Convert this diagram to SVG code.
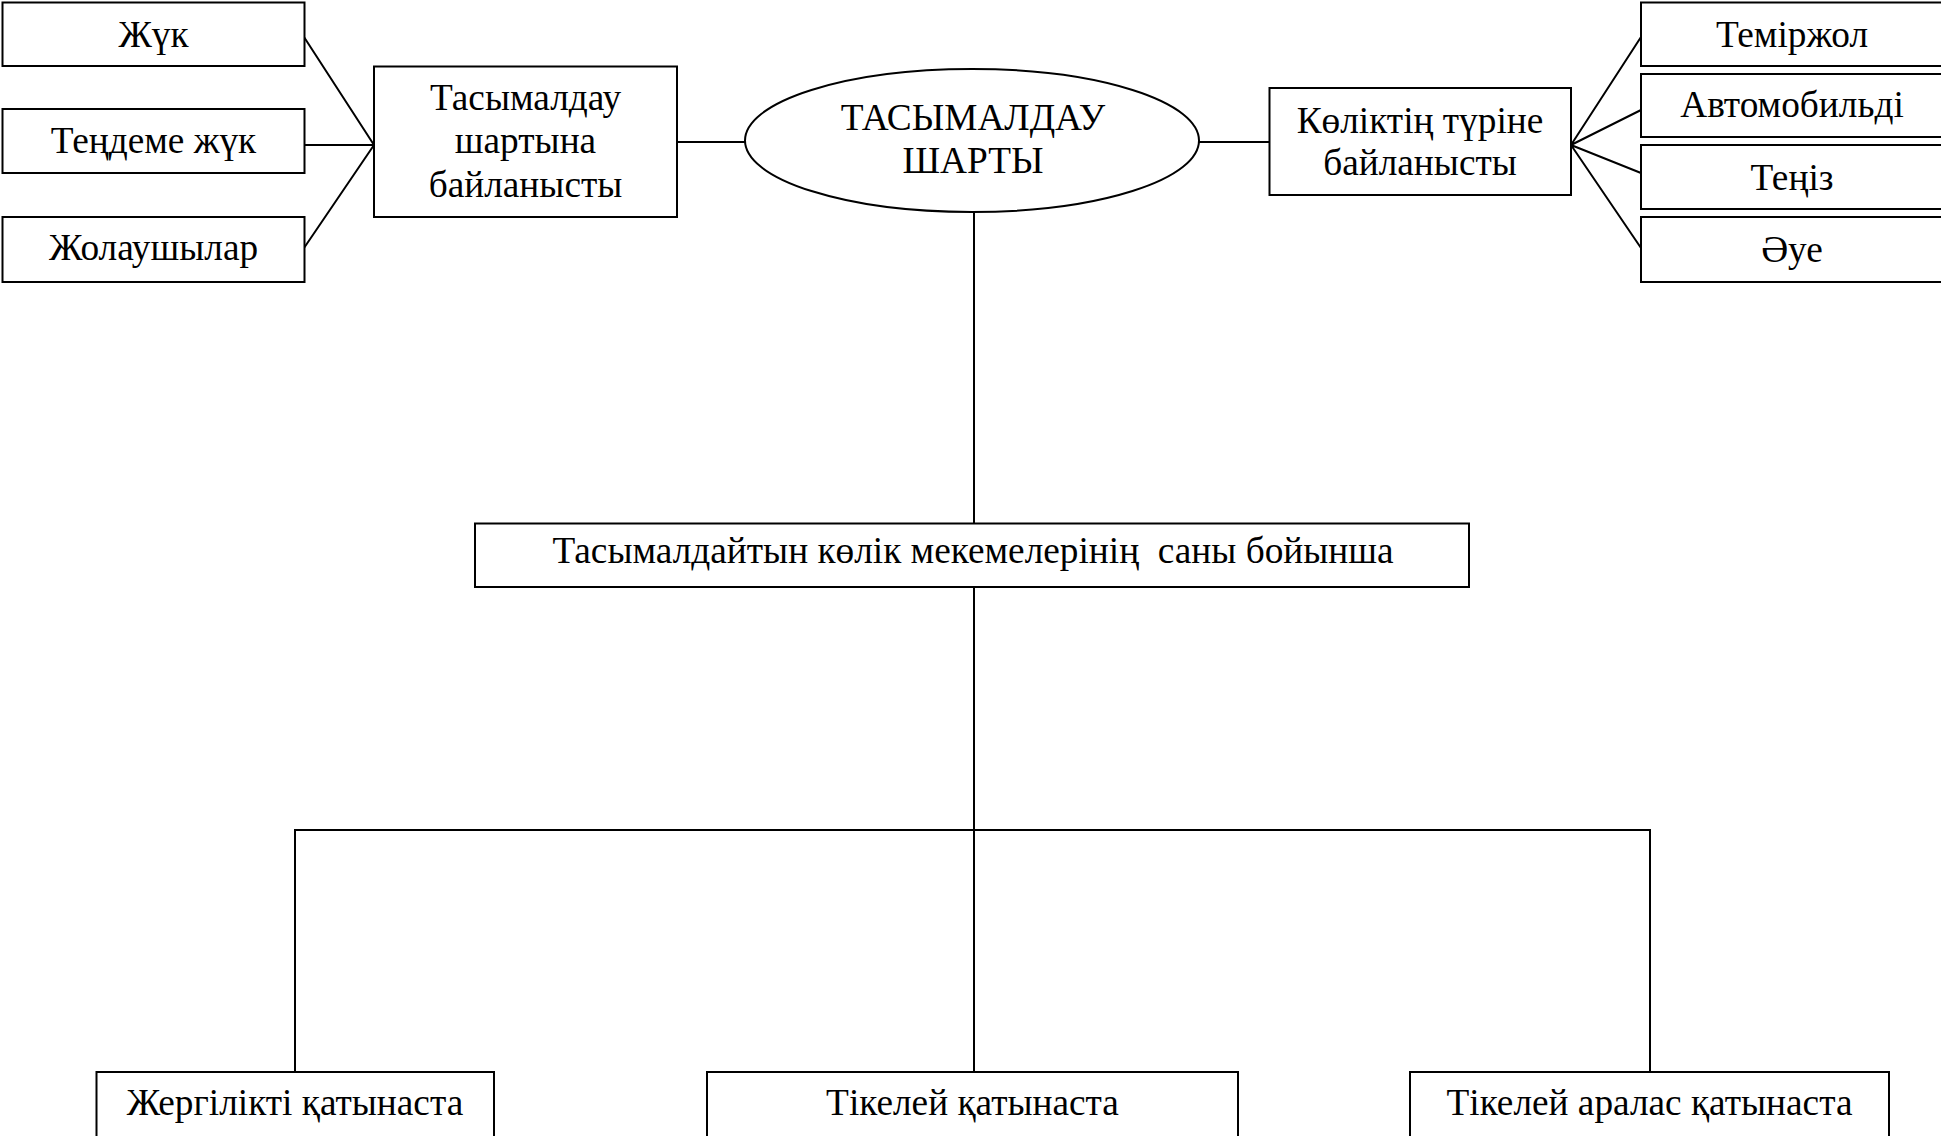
<svg xmlns="http://www.w3.org/2000/svg" width="1941" height="1136" viewBox="0 0 1941 1136">
<style>
.box{fill:#fff;stroke:#000;stroke-width:2}
.ln{fill:none;stroke:#000;stroke-width:2}
text{font-family:"Liberation Serif","Times New Roman",serif;font-size:37.3px;fill:#000;text-anchor:middle;white-space:pre}
</style>
<rect x="0" y="0" width="1941" height="1136" fill="#fff"/>
<g id="connectors">
<path class="ln" d="M304,37 L374,145 M304,145 L374,145 M304,248 L374,145"/>
<path class="ln" d="M677,142 L745,142 M1199,142 L1269,142"/>
<path class="ln" d="M1571,145 L1641,37 M1571,145 L1641,110 M1571,145 L1641,173 M1571,145 L1641,248"/>
<path class="ln" d="M974,212 L974,523 M974,587 L974,1072 M295,1072 L295,830 L1650,830 L1650,1072"/>
</g>
<g id="n-zhuk"><rect class="box" x="2.5" y="2.5" width="302" height="63.5"/><text x="153.5" y="47">Жүк</text></g>
<g id="n-tendeme"><rect class="box" x="2.5" y="109" width="302" height="64"/><text x="153.5" y="153">Теңдеме жүк</text></g>
<g id="n-zholaushy"><rect class="box" x="2.5" y="217" width="302" height="65"/><text x="153.5" y="260">Жолаушылар</text></g>
<g id="n-shart"><rect class="box" x="374" y="66.5" width="303" height="150.5"/><text x="525.5" y="110">Тасымалдау</text><text x="525.5" y="153">шартына</text><text x="525.5" y="197">байланысты</text></g>
<g id="n-root"><ellipse class="box" cx="972" cy="140.5" rx="227" ry="71.5"/><text x="973" y="130">ТАСЫМАЛДАУ</text><text x="973" y="173">ШАРТЫ</text></g>
<g id="n-kolik"><rect class="box" x="1269.5" y="88" width="301.5" height="107"/><text x="1420" y="133">Көліктің түріне</text><text x="1420" y="175">байланысты</text></g>
<g id="n-temir"><rect class="box" x="1641" y="2.5" width="310" height="63.5"/><text x="1792" y="47">Теміржол</text></g>
<g id="n-avto"><rect class="box" x="1641" y="74" width="310" height="63"/><text x="1792" y="117">Автомобильді</text></g>
<g id="n-teniz"><rect class="box" x="1641" y="145" width="310" height="64"/><text x="1792" y="190">Теңіз</text></g>
<g id="n-aue"><rect class="box" x="1641" y="217" width="310" height="65"/><text x="1792" y="262">Әуе</text></g>
<g id="n-sany"><rect class="box" x="475" y="523.5" width="994" height="63.5"/><text x="973" y="563" xml:space="preserve">Тасымалдайтын көлік мекемелерінің  саны бойынша</text></g>
<g id="n-zhergilikti"><rect class="box" x="96.5" y="1072" width="397.5" height="80"/><text x="295" y="1115">Жергілікті қатынаста</text></g>
<g id="n-tikelei"><rect class="box" x="707" y="1072" width="531" height="80"/><text x="972.5" y="1115">Тікелей қатынаста</text></g>
<g id="n-aralas"><rect class="box" x="1410" y="1072" width="479" height="80"/><text x="1649.5" y="1115">Тікелей аралас қатынаста</text></g>
</svg>
